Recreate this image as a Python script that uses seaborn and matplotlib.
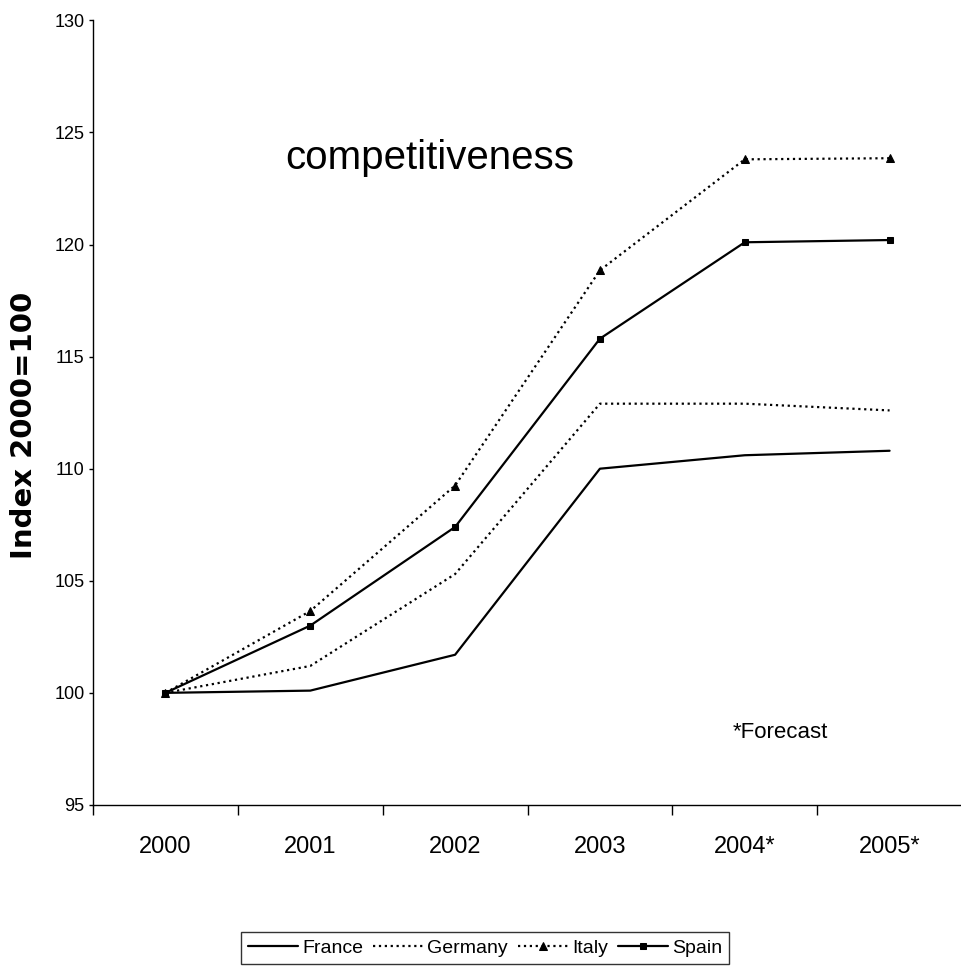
import matplotlib
matplotlib.use("Agg")
from matplotlib import pyplot as plt
import matplotlib.ticker as ticker
import pandas as pd
import seaborn as sns

years = ['2000', '2001', '2002', '2003', '2004*', '2005*']
france = [100.0, 100.1, 101.7, 110.0, 110.6, 110.8]
germany = [100.0, 101.2, 105.3, 112.9, 112.9, 112.6]
italy = [100.0, 103.65, 109.25, 118.85, 123.8, 123.85]
spain = [100.0, 103.0, 107.4, 115.8, 120.1, 120.2]

sns.set_style('white')
plt.rcParams['font.family'] = ['Liberation Sans Narrow', 'Liberation Sans', 'DejaVu Sans']
plt.rcParams['text.color'] = 'black'
plt.rcParams['xtick.color'] = 'black'
plt.rcParams['ytick.color'] = 'black'
plt.rcParams['axes.labelcolor'] = 'black'

f1, ax1 = plt.subplots(figsize=(9.62, 9.69), dpi=100)
f1.subplots_adjust(left=0.0967, right=1.0, bottom=0.1693, top=0.979)

series = {'France': france, 'Germany': germany, 'Italy': italy, 'Spain': spain}
styles = {'France': ('-', None, 0), 'Germany': (':', None, 0), 'Italy': (':', '^', 6), 'Spain': ('-', 's', 5)}

for name, vals in series.items():
    df = pd.DataFrame({'year': years, 'value': vals})
    ls, mk, ms = styles[name]
    sns.lineplot(data=df, x='year', y='value', ax=ax1, color='black', linestyle=ls,
                 marker=mk, markersize=ms, markeredgecolor='black', linewidth=1.6,
                 label=name, sort=False)

ax1.set_xlim(-0.5, 5.5)
ax1.set_ylim(95, 130)
ax1.yaxis.set_major_locator(ticker.MultipleLocator(5))

# tick marks between categories, labels at the centres
ax1.xaxis.set_major_locator(ticker.FixedLocator([i - 0.5 for i in range(7)]))
ax1.xaxis.set_major_formatter(ticker.NullFormatter())
ax1.xaxis.set_minor_locator(ticker.FixedLocator(list(range(6))))
ax1.xaxis.set_minor_formatter(ticker.FixedFormatter(years))
ax1.tick_params(axis='x', which='major', direction='out', length=7.5, width=1, bottom=True)
ax1.tick_params(axis='x', which='minor', length=0, labelsize=17, pad=22)
ax1.tick_params(axis='y', direction='out', length=3, width=1, left=True, labelsize=13, pad=3)

for s in ['top', 'right']:
    ax1.spines[s].set_visible(False)
for s in ['left', 'bottom']:
    ax1.spines[s].set_color('black')
    ax1.spines[s].set_linewidth(1)

ax1.set(xlabel=None)
ax1.set_ylabel('Index 2000=100', fontsize=21, fontweight='bold', family=['DejaVu Sans'], va='center')
ax1.yaxis.set_label_coords(-0.079, 0.484)

ax1.text(0.387, 0.824, 'competitiveness', transform=ax1.transAxes, ha='center', va='center',
         fontsize=29, family=['Liberation Sans', 'DejaVu Sans'])
ax1.text(0.791, 0.092, '*Forecast', transform=ax1.transAxes, ha='center', va='center', fontsize=16)

ax1.get_legend().remove()
handles, labels = ax1.get_legend_handles_labels()
lg = f1.legend(handles, labels, ncol=4, loc='center', bbox_to_anchor=(0.504, 0.0217),
               fontsize=14, frameon=True, fancybox=False, edgecolor='black', handlelength=2.6,
               handletextpad=0.2, columnspacing=0.5, borderpad=0.35)
lg.get_frame().set_linewidth(1)

f1.savefig('out.png', dpi=100)
